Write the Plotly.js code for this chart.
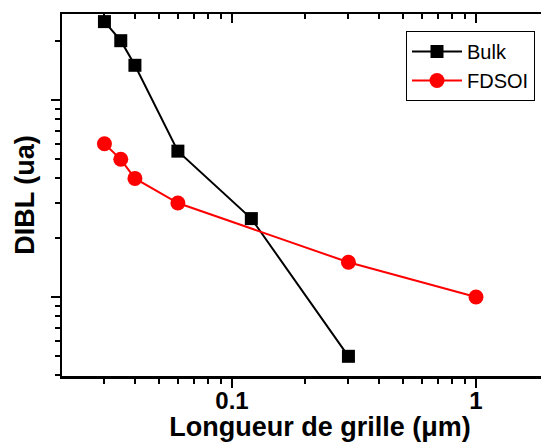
<!DOCTYPE html>
<html><head><meta charset="utf-8">
<script src="https://cdn.plot.ly/plotly-3.0.1.min.js"></script>
<style>html,body{margin:0;padding:0;overflow:hidden;background:#fff;width:541px;height:442px}</style>
</head><body><div id="chart"></div>
<script>
// Gate length (µm)
const bulkLength = [0.03, 0.035, 0.04, 0.06, 0.12, 0.3];
const bulkDIBL = [25, 20, 15, 5.5, 2.5, 0.5];
const fdsoiLength = [0.03, 0.035, 0.04, 0.06, 0.3, 1];
const fdsoiDIBL = [6, 5, 4, 3, 1.5, 1];
const xMajorTicks = [0.1, 1];
const xTickLabels = ['0.1', '1'];
const xMinorTicks = [0.02,0.03,0.04,0.05,0.06,0.07,0.08,0.09,0.2,0.3,0.4,0.5,0.6,0.7,0.8,0.9,2];
const yMajorTicks = [1, 10];
const yMinorTicks = [0.4,0.5,0.6,0.7,0.8,0.9,2,3,4,5,6,7,8,9,20];

const FONT = 'Liberation Sans, Arial, sans-serif';
const W = 578, H = 442;
const xRange = [Math.log10(0.0201), Math.log10(0.0201) + (W - 62) / 244];
const yRange = [-0.401, 1.4365];

const traces = [
  {x: bulkLength, y: bulkDIBL, name: 'Bulk', mode: 'lines+markers',
   line: {color: '#000', width: 2}, marker: {symbol: 'square', size: 13, color: '#000'}},
  {x: fdsoiLength, y: fdsoiDIBL, name: 'FDSOI', mode: 'lines+markers',
   line: {color: '#ff0000', width: 2}, marker: {symbol: 'circle', size: 15, color: '#ff0000'}},
  {x: [], y: [], xaxis: 'x2', yaxis: 'y', showlegend: false, hoverinfo: 'skip', mode: 'markers'}
];

const layout = {
  width: W, height: H,
  margin: {l: 62, r: 0, t: 14, b: 66},
  paper_bgcolor: '#fff', plot_bgcolor: '#fff',
  font: {family: FONT, color: '#000'},
  showlegend: true,
  legend: {x: (406 - 62) / (W - 62), y: (376 - 31) / 362, xanchor: 'left', yanchor: 'top',
           bgcolor: '#fff', bordercolor: '#000', borderwidth: 1, itemwidth: 50,
           tracegroupgap: 0,
           font: {family: FONT, size: 20, color: '#000'}},
  xaxis: {type: 'log', range: xRange, showgrid: false, zeroline: false,
          showline: true, linecolor: '#000', linewidth: 2.5,
          ticks: 'outside', ticklen: 9, tickwidth: 2, tickcolor: '#000',
          tickmode: 'array', tickvals: xMajorTicks, ticktext: xTickLabels,
          ticklabelstandoff: -7,
          tickfont: {family: FONT, size: 24, color: '#000', weight: 'bold'},
          minor: {tickmode: 'array', tickvals: xMinorTicks, ticks: 'outside', ticklen: 5, tickwidth: 2, tickcolor: '#000', showgrid: false},
          title: {text: 'Longueur de grille (μm)', font: {family: FONT, size: 27, color: '#000', weight: 'bold'}, standoff: 0}},
  xaxis2: {type: 'log', range: xRange, overlaying: 'x', side: 'top', showgrid: false, zeroline: false,
           showline: true, linecolor: '#000', linewidth: 2.5,
           ticks: 'inside', ticklen: 9, tickwidth: 2, tickcolor: '#000',
           tickmode: 'array', tickvals: xMajorTicks, showticklabels: false,
           minor: {tickmode: 'array', tickvals: xMinorTicks, ticks: 'inside', ticklen: 5, tickwidth: 2, tickcolor: '#000', showgrid: false}},
  yaxis: {type: 'log', range: yRange, showgrid: false, zeroline: false,
          showline: true, linecolor: '#000', linewidth: 2.5,
          ticks: 'outside', ticklen: 9, tickwidth: 2, tickcolor: '#000',
          tickmode: 'array', tickvals: yMajorTicks, showticklabels: false,
          minor: {tickmode: 'array', tickvals: yMinorTicks, ticks: 'outside', ticklen: 5, tickwidth: 2, tickcolor: '#000', showgrid: false},
          title: {text: 'DIBL (ua)', font: {family: FONT, size: 27, color: '#000', weight: 'bold'}, standoff: 8}}
};

Plotly.newPlot('chart', traces, layout, {displayModeBar: false, staticPlot: true});
</script></body></html>
